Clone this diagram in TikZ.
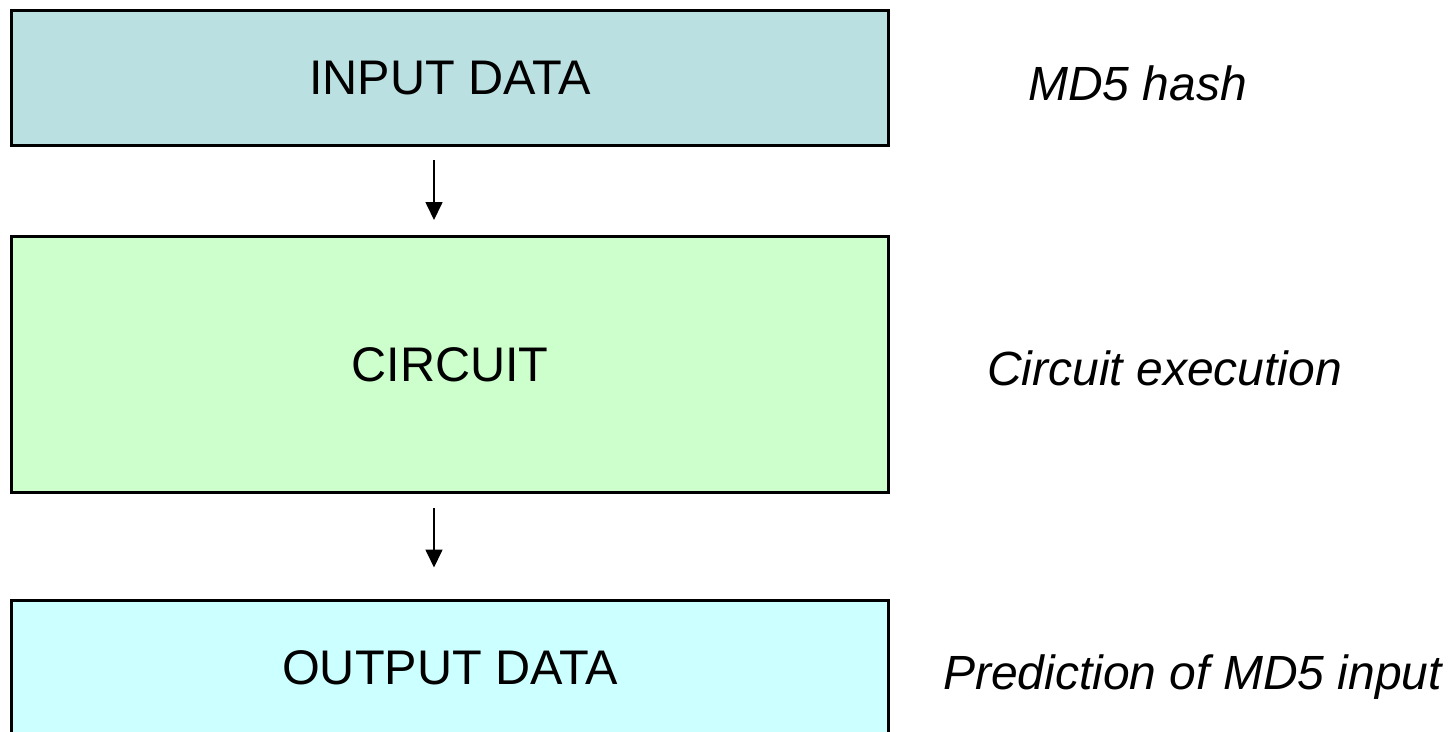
\documentclass[tikz,border=0pt]{standalone}
\usepackage{fontspec}
\setmainfont{Liberation Sans}
\usetikzlibrary{arrows.meta}
\definecolor{inblue}{RGB}{186,224,226}
\definecolor{circgreen}{RGB}{204,255,204}
\definecolor{outcyan}{RGB}{204,255,255}
\tikzset{
  box/.style={draw=black, line width=3pt, minimum width=877pt, inner sep=0pt,
    font=\fontsize{48.6}{56}\selectfont},
  lbl/.style={anchor=base west, inner sep=0pt, font=\fontsize{48}{56}\selectfont\itshape},
  arr/.style={line width=1.7pt, -{Triangle[length=18pt,width=17pt]}}
}
\begin{document}
\begin{tikzpicture}[x=1pt,y=-1pt]
\clip (0,0) rectangle (1456,731);
\fill[white] (0,0) rectangle (1456,731);
\node[box, fill=inblue, minimum height=135pt] (b1) at (450,78) {INPUT DATA};
\node[box, fill=circgreen, minimum height=256pt] (b2) at (450,364.5) {CIRCUIT};
\node[box, fill=outcyan, minimum height=136pt] (b3) at (450,668) {OUTPUT DATA};
\node[lbl] (l1) at (1028,100) {MD5 hash};
\node[lbl] (l2) at (987,385) {Circuit execution};
\node[lbl] (l3) at (943,689) {Prediction of MD5 input};
\draw[arr, shorten <=13pt, shorten >=15pt] ([xshift=-16pt]b1.south) -- ([xshift=-16pt]b2.north);
\draw[arr, shorten <=14pt, shorten >=31pt] ([xshift=-16pt]b2.south) -- ([xshift=-16pt]b3.north);
\end{tikzpicture}
\end{document}
